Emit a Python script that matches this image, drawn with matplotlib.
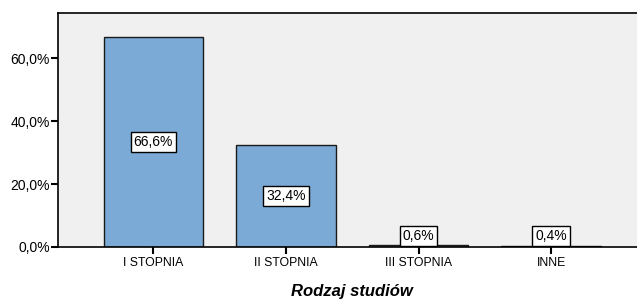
import matplotlib.pyplot as plt

plt.rcParams['font.family'] = ['Liberation Sans', 'DejaVu Sans']

categories = ["I STOPNIA", "II STOPNIA", "III STOPNIA", "INNE"]
values = [66.6, 32.4, 0.6, 0.4]
labels = ["66,6%", "32,4%", "0,6%", "0,4%"]
yticks = [0, 20, 40, 60]
ytick_labels = ["0,0%", "20,0%", "40,0%", "60,0%"]

fig = plt.figure(figsize=(6.37, 2.99), dpi=100)
ax = fig.add_axes([58 / 637, 1 - 247 / 299, (646.5 - 58) / 637, (247 - 13) / 299])
ax.set_facecolor("#F0F0F0")

x = range(len(categories))
ax.bar(x, values, width=0.75, color="#7BAAD6", edgecolor="#1a1a1a", linewidth=1.0, zorder=2)

# value boxes: middle of tall bars, just above the tiny ones
for i, (v, lab) in enumerate(zip(values, labels)):
    y = v / 2 if v > 10 else 3.6
    ax.text(i, y, lab, ha="center", va="center", fontsize=10, zorder=3,
            bbox=dict(boxstyle="square,pad=0.22", facecolor="white", edgecolor="black", linewidth=1))

ax.set_xlim(-0.72, 3.72)
ax.set_ylim(0, 74.3)
ax.set_xticks(list(x))
ax.set_xticklabels(categories, fontsize=8.8)
ax.set_yticks(yticks)
ax.set_yticklabels(ytick_labels, fontsize=10)
ax.tick_params(axis="both", length=5, width=1.5, color="black")
ax.tick_params(axis="x", pad=2)
ax.tick_params(axis="y", pad=1)
for s in ax.spines.values():
    s.set_linewidth(1.2)

ax.set_xlabel("Rodzaj studiów", fontsize=12, fontweight="bold", fontstyle="italic", labelpad=11)

fig.savefig("out.png", dpi=100)
